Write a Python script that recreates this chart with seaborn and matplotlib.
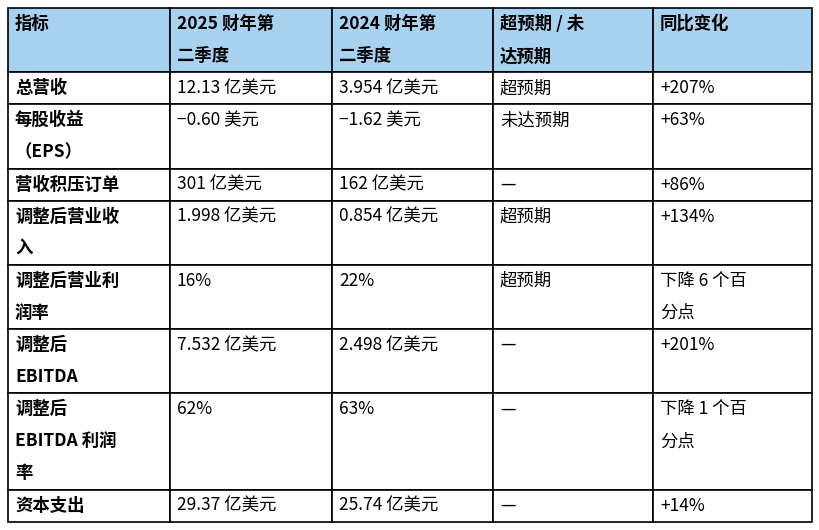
import matplotlib
matplotlib.use("Agg")
import matplotlib.pyplot as plt
import seaborn as sns

sns.set_theme(style="white", font="Noto Sans CJK SC")

headers = ["指标", "2025 财年第\n二季度", "2024 财年第\n二季度", "超预期 / 未\n达预期", "同比变化"]
metrics = ["总营收", "每股收益\n（EPS）", "营收积压订单", "调整后营业收\n入", "调整后营业利\n润率",
           "调整后\nEBITDA", "调整后\nEBITDA 利润\n率", "资本支出"]
fy2025 = ["12.13 亿美元", "−0.60 美元", "301 亿美元", "1.998 亿美元", "16%", "7.532 亿美元", "62%", "29.37 亿美元"]
fy2024 = ["3.954 亿美元", "−1.62 美元", "162 亿美元", "0.854 亿美元", "22%", "2.498 亿美元", "63%", "25.74 亿美元"]
vs_est = ["超预期", "未达预期", "—", "超预期", "超预期", "—", "—", "—"]
yoy = ["+207%", "+63%", "+86%", "+134%", "下降 6 个百\n分点", "+201%", "下降 1 个百\n分点", "+14%"]

col_x = [8, 170, 332, 493, 653, 812]
line_h = 32.1
top = 8

fig = plt.figure(figsize=(8.2, 5.3), dpi=100)
ax = fig.add_axes([0, 0, 1, 1])
ax.set_xlim(0, 820)
ax.set_ylim(530, 0)
ax.axis("off")

rows = [headers] + [list(r) for r in zip(metrics, fy2025, fy2024, vs_est, yoy)]
y = top
for ri, row in enumerate(rows):
    nlines = max(c.count("\n") + 1 for c in row)
    h = nlines * line_h
    for ci, cell in enumerate(row):
        x0, x1 = col_x[ci], col_x[ci + 1]
        fc = "#a8d3f0" if ri == 0 else "white"
        ax.add_patch(plt.Rectangle((x0, y), x1 - x0, h, facecolor=fc, edgecolor="black", lw=1.2))
        bold = ri == 0 or ci == 0
        for li, t in enumerate(cell.split("\n")):
            ax.text(x0 + 7, y + line_h * li + line_h / 2, t, ha="left", va="center",
                    fontsize=12.5, fontweight="bold" if bold else "normal", color="black")
    y += h

fig.savefig("out.png", dpi=100, facecolor="white")
